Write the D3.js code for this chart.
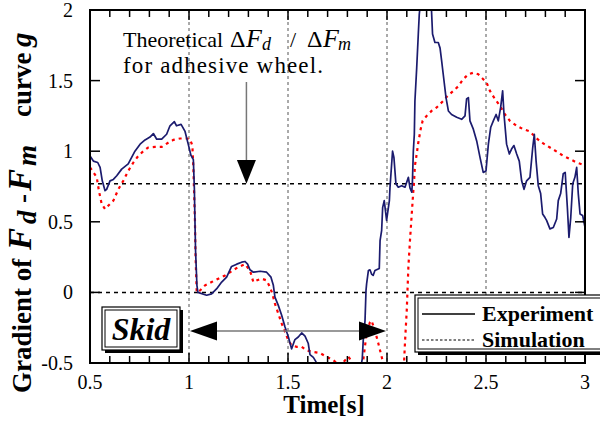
<!DOCTYPE html>
<html><head><meta charset="utf-8">
<script src="https://cdn.jsdelivr.net/npm/d3@7"></script>
<style>body{margin:0;background:#fff}svg{display:block}text{font-family:"Liberation Serif","Times New Roman",Times,"DejaVu Serif",serif}</style>
</head><body>
<svg id="c" width="600" height="427"></svg>
<script>
// ---- data ----
const expT = [0.500,0.517,0.539,0.551,0.562,0.576,0.584,0.601,0.618,0.635,0.660,0.693,0.727,0.753,0.778,0.803,0.820,0.837,0.862,0.887,0.904,0.926,0.937,0.960,0.980,0.996,1.010,1.022,1.027,1.030,1.033,1.040,1.045,1.089,1.114,1.140,1.165,1.190,1.215,1.241,1.266,1.283,1.296,1.308,1.325,1.359,1.392,1.414,1.426,1.434,1.451,1.468,1.485,1.502,1.518,1.535,1.552,1.569,1.586,1.602,1.611,1.628,1.641,1.652,1.700,1.800,1.860,1.875,1.880,1.889,1.894,1.897,1.906,1.914,1.922,1.930,1.939,1.961,1.965,1.973,1.978,1.986,1.998,2.012,2.015,2.028,2.035,2.045,2.057,2.074,2.091,2.108,2.116,2.125,2.128,2.133,2.138,2.141,2.150,2.158,2.163,2.170,2.190,2.210,2.225,2.230,2.242,2.259,2.268,2.276,2.284,2.298,2.310,2.326,2.352,2.377,2.394,2.402,2.411,2.419,2.436,2.453,2.470,2.486,2.500,2.512,2.524,2.537,2.551,2.562,2.574,2.584,2.591,2.604,2.618,2.629,2.641,2.655,2.668,2.680,2.692,2.705,2.722,2.736,2.744,2.753,2.764,2.776,2.786,2.798,2.806,2.823,2.840,2.857,2.865,2.877,2.890,2.900,2.911,2.919,2.928,2.938,2.949,2.958,2.966,2.975,2.988,3.000];
const expV = [0.967,0.93,0.92,0.885,0.79,0.72,0.73,0.79,0.80,0.826,0.873,0.91,1.00,1.05,1.08,1.10,1.125,1.085,1.085,1.12,1.18,1.21,1.18,1.19,1.14,1.05,0.97,0.94,0.74,0.51,0.30,0.05,0.0,-0.02,-0.01,0.026,0.073,0.108,0.184,0.20,0.214,0.219,0.20,0.16,0.143,0.15,0.143,0.108,0.05,-0.033,-0.092,-0.162,-0.245,-0.316,-0.40,-0.334,-0.316,-0.287,-0.31,-0.36,-0.44,-0.46,-0.49,-0.56,-0.65,-0.65,-0.60,-0.47,-0.34,-0.20,0.014,0.06,0.155,0.16,0.13,0.12,0.155,0.17,0.367,0.44,0.60,0.65,0.51,0.65,0.74,1.0,0.955,0.77,0.745,0.756,0.745,0.815,0.74,0.71,0.77,1.0,1.12,1.356,1.59,1.826,1.97,2.06,2.3,2.3,1.99,1.83,1.77,1.77,1.73,1.64,1.545,1.38,1.285,1.26,1.24,1.226,1.25,1.37,1.38,1.215,1.156,1.073,0.955,0.85,0.86,1.05,1.17,1.215,1.26,1.215,1.31,1.427,1.26,1.05,0.98,1.015,1.04,0.98,0.93,0.79,0.73,0.79,0.815,1.026,1.12,0.93,0.756,0.70,0.555,0.53,0.51,0.45,0.46,0.52,0.65,0.70,0.84,0.85,0.60,0.39,0.53,0.77,0.815,0.885,0.70,0.555,0.545,0.46];
const simT = [0.500,0.517,0.534,0.545,0.559,0.576,0.592,0.618,0.643,0.668,0.693,0.719,0.744,0.769,0.794,0.828,0.862,0.895,0.921,0.955,0.988,1.005,1.017,1.022,1.027,1.030,1.033,1.039,1.056,1.081,1.114,1.148,1.182,1.215,1.249,1.283,1.308,1.325,1.341,1.367,1.392,1.409,1.421,1.434,1.451,1.468,1.485,1.502,1.518,1.544,1.569,1.594,1.619,1.662,1.695,1.729,1.763,1.805,1.823,1.843,1.874,1.880,1.897,1.914,1.922,1.939,1.956,1.973,1.981,2.015,2.066,2.086,2.091,2.100,2.108,2.116,2.125,2.133,2.136,2.141,2.150,2.158,2.170,2.180,2.200,2.225,2.251,2.284,2.305,2.335,2.360,2.385,2.411,2.436,2.461,2.486,2.503,2.520,2.545,2.571,2.596,2.621,2.655,2.688,2.722,2.756,2.789,2.823,2.857,2.890,2.924,2.958,3.000];
const simV = [0.885,0.85,0.815,0.72,0.626,0.59,0.614,0.65,0.73,0.79,0.86,0.92,0.967,1.00,1.026,1.03,1.03,1.06,1.08,1.09,1.09,1.085,1.04,0.885,0.65,0.51,0.26,0.0,0.014,0.05,0.073,0.097,0.12,0.15,0.18,0.20,0.155,0.073,0.085,0.097,0.085,0.037,-0.01,-0.08,-0.15,-0.22,-0.28,-0.34,-0.374,-0.386,-0.386,-0.41,-0.42,-0.43,-0.456,-0.48,-0.52,-0.456,-0.49,-0.6,-0.55,-0.48,-0.29,-0.21,-0.20,-0.27,-0.36,-0.456,-0.5,-0.8,-0.8,-0.5,-0.35,-0.12,0.18,0.367,0.555,0.72,0.77,0.897,0.98,1.06,1.156,1.215,1.25,1.285,1.31,1.356,1.39,1.427,1.46,1.51,1.545,1.556,1.545,1.51,1.486,1.427,1.37,1.32,1.26,1.215,1.18,1.156,1.14,1.09,1.055,1.026,0.997,0.967,0.944,0.92,0.90];
const xTicks = [0.5,1,1.5,2,2.5,3];
const xTickLabels = ["0.5","1","1.5","2","2.5","3"];
const yTicks = [-0.5,0,0.5,1,1.5,2];
const yTickLabels = ["-0.5","0","0.5","1","1.5","2"];
const xGrid = [1,1.5,2,2.5];
const hRefs = [0,0.77];
const legendNames = ["Experiment","Simulation"];

// ---- layout ----
const svg = d3.select("#c");
const L=90,R=585,T=10,B=363;
const x = d3.scaleLinear().domain([0.5,3]).range([L,R]);
const y = d3.scaleLinear().domain([-0.5,2]).range([B,T]);

svg.append("clipPath").attr("id","pc").append("rect").attr("x",L).attr("y",T).attr("width",R-L).attr("height",B-T);

// grid
svg.selectAll(".vg").data(xGrid).join("line")
  .attr("x1",d=>x(d)).attr("x2",d=>x(d)).attr("y1",T).attr("y2",B)
  .attr("stroke","#555").attr("stroke-width",1).attr("stroke-dasharray","3,3");
svg.selectAll(".hg").data(hRefs).join("line")
  .attr("x1",L).attr("x2",R).attr("y1",d=>y(d)).attr("y2",d=>y(d))
  .attr("stroke","#000").attr("stroke-width",1.5).attr("stroke-dasharray","4,4");

// lines
const exp = expT.map((t,i)=>[t,expV[i]]);
const sim = simT.map((t,i)=>[t,simV[i]]);
const line = d3.line().x(d=>x(d[0])).y(d=>y(d[1]));
const g = svg.append("g").attr("clip-path","url(#pc)");
g.append("path").datum(sim).attr("d",line).attr("fill","none")
  .attr("stroke","#ff0000").attr("stroke-width",2.2).attr("stroke-dasharray","3,4");
g.append("path").datum(exp).attr("d",line).attr("fill","none")
  .attr("stroke","#1b1b6e").attr("stroke-width",1.7).attr("stroke-linejoin","round");

// frame
svg.append("rect").attr("x",L).attr("y",T).attr("width",R-L).attr("height",B-T)
  .attr("fill","none").attr("stroke","#000").attr("stroke-width",2);

// ticks
const minor = d3.range(6,30).map(d=>d/10);
const tk = svg.append("g").attr("stroke","#000").attr("stroke-width",1.5);
minor.forEach(v=>{
  const len = (Math.abs(v*2-Math.round(v*2))<1e-6)?10:7;
  tk.append("line").attr("x1",x(v)).attr("x2",x(v)).attr("y1",B).attr("y2",B-len);
  tk.append("line").attr("x1",x(v)).attr("x2",x(v)).attr("y1",T).attr("y2",T+len);
});
yTicks.forEach(v=>{
  tk.append("line").attr("x1",L).attr("x2",L+10).attr("y1",y(v)).attr("y2",y(v));
  tk.append("line").attr("x1",R).attr("x2",R-10).attr("y1",y(v)).attr("y2",y(v));
});

// tick labels
svg.selectAll(".xl").data(xTicks).join("text")
  .attr("x",d=>x(d)).attr("y",389).attr("text-anchor","middle")
  .attr("font-size",20).text((d,i)=>xTickLabels[i]);
svg.selectAll(".yl").data(yTicks).join("text")
  .attr("x",73).attr("y",d=>y(d)+7).attr("text-anchor","end")
  .attr("font-size",20).text((d,i)=>yTickLabels[i]);

// axis titles
svg.append("text").attr("x",324).attr("y",413).attr("text-anchor","middle")
  .attr("font-size",25).attr("font-weight","bold").text("Time[s]");
const yt = svg.append("text").attr("transform","translate(31,0) rotate(-90)")
  .attr("font-size",27).attr("font-weight","bold");
[["Gradient of",393,0,27,false],["F",250,0,33,true],["d",224,5,27,true],["-",203,0,27,false],
 ["F",191,0,33,true],["m",166,5,27,true],["curve",117,0,27,false],["g",47,0,29,true]]
 .forEach(([s,sy,dy,fs,it])=>{
   yt.append("tspan").attr("x",-sy).attr("y",dy).attr("font-size",fs)
     .attr("font-style",it?"italic":"normal").text(s);
 });

// annotation text
const a1 = svg.append("text").attr("font-size",22);
[["Theoretical",123,0,22,false],["\u0394",230,0,24,false],["F",246,0,26,true],["d",262,3,18,true],
 ["/",290,0,22,false],["\u0394",307,0,24,false],["F",323,0,26,true],["m",338,3,18,true]]
 .forEach(([s,sx,dy,fs,it])=>{
   a1.append("tspan").attr("x",sx).attr("y",47+dy).attr("font-size",fs)
     .attr("font-style",it?"italic":"normal").text(s);
 });
svg.append("text").attr("x",123).attr("y",73).attr("font-size",23)
  .attr("textLength",200).attr("lengthAdjust","spacing").text("for adhesive wheel.");

// vertical arrow
const ax = x(1.29);
svg.append("line").attr("x1",ax).attr("x2",ax).attr("y1",82).attr("y2",162).attr("stroke","#777").attr("stroke-width",1.5);
svg.append("path").attr("d",`M${ax-9.5},160 L${ax+9.5},160 L${ax},${y(0.77)} Z`).attr("fill","#000");

// horizontal double arrow
const ay = 331, lx = x(1.005), rx = x(1.995);
svg.append("line").attr("x1",lx+25).attr("x2",rx-25).attr("y1",ay).attr("y2",ay).attr("stroke","#777").attr("stroke-width",1.5);
svg.append("path").attr("d",`M${lx},${ay} L${lx+27},${ay-9.5} L${lx+27},${ay+9.5} Z`).attr("fill","#000");
svg.append("path").attr("d",`M${rx},${ay} L${rx-27},${ay-9.5} L${rx-27},${ay+9.5} Z`).attr("fill","#000");

// Skid box
function shadowBox(x0,y0,w,h){
  svg.append("rect").attr("x",x0+3).attr("y",y0+3).attr("width",w).attr("height",h).attr("fill","#000");
  svg.append("rect").attr("x",x0).attr("y",y0).attr("width",w).attr("height",h).attr("fill","#fff").attr("stroke","#000").attr("stroke-width",1.2);
}
shadowBox(102,307,78,43);
svg.append("rect").attr("x",105).attr("y",310).attr("width",72).attr("height",37).attr("fill","none").attr("stroke","#000").attr("stroke-width",1);
svg.append("text").attr("x",141).attr("y",340).attr("text-anchor","middle")
  .attr("font-size",32).attr("font-weight","bold").attr("font-style","italic").text("Skid");

// legend
shadowBox(415,295,190,57);
svg.append("rect").attr("x",418).attr("y",298).attr("width",190).attr("height",51).attr("fill","none").attr("stroke","#000").attr("stroke-width",1);
svg.append("line").attr("x1",422).attr("x2",475).attr("y1",314).attr("y2",314).attr("stroke","#000").attr("stroke-width",1.5);
svg.append("line").attr("x1",422).attr("x2",475).attr("y1",340).attr("y2",340).attr("stroke","#000").attr("stroke-width",1.2).attr("stroke-dasharray","2.5,2");
svg.selectAll(".lg").data(legendNames).join("text")
  .attr("x",482).attr("y",(d,i)=>321+i*26).attr("font-size",22).attr("font-weight","bold").text(d=>d);
</script>
</body></html>
